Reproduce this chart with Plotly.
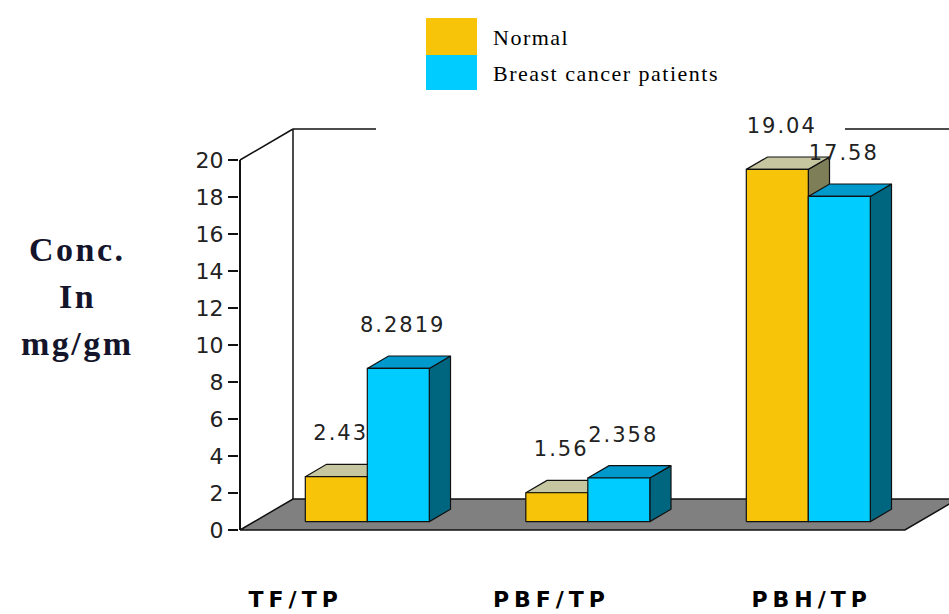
import plotly.graph_objects as go

# ---------------- data ----------------
categories = ["TF/TP", "PBF/TP", "PBH/TP"]
series_names = ["Normal", "Breast cancer patients"]
normal = [2.43, 1.56, 19.04]
cancer = [8.2819, 2.358, 17.58]
y_tick_values = [0, 2, 4, 6, 8, 10, 12, 14, 16, 18, 20]
y_title_lines = ["Conc.", "In", "mg/gm"]

# ---------------- geometry / style ----------------
W, H = 949, 614
L, R, T, B = 239, 0, 100, 30
PX_X = 220.5          # pixels per category unit
PX_Y = 18.5           # pixels per value unit
ZERO_PX = 530         # pixel row of value 0 (front)
CAT0_PX = 353         # pixel column of first category centre
plot_w, plot_h = W - L - R, H - T - B
x_range = [(L - CAT0_PX) / PX_X, (L + plot_w - CAT0_PX) / PX_X]
y_range = [(ZERO_PX - (T + plot_h)) / PX_Y, (ZERO_PX - T) / PX_Y]

AXIS_X = (240 - CAT0_PX) / PX_X
DX, DY = 53 / PX_X, 31 / PX_Y          # full depth of the 3-D box
F0, FD = 0.27, 0.40                    # bar front position / depth (fraction)
BAR_W = 62 / PX_X
FLOOR_RIGHT = len(categories) - 1 + 0.503
Y_MAX = max(y_tick_values)
GAP = [(376 - CAT0_PX) / PX_X, (845 - CAT0_PX) / PX_X]
LABEL_SHIFT = [-0.26, -0.10, 0.08]
LABEL_RISE = 2.25

colors = {
    "Normal": {"front": "#F7C409", "top": "#C6C6A0", "side": "#7E7E58"},
    "Breast cancer patients": {"front": "#00CCFF", "top": "#0099CC", "side": "#006680"},
}
EDGE = "#111111"


def px2paper_x(px):
    return (px - L) / plot_w


def px2paper_y(py):
    return (T + plot_h - py) / plot_h


fig = go.Figure()


def poly(xs, ys, fill, width=1.2):
    fig.add_trace(go.Scatter(x=xs + [xs[0]], y=ys + [ys[0]], mode="lines", fill="toself",
                             fillcolor=fill, line=dict(color=EDGE, width=width),
                             hoverinfo="skip", showlegend=False))


def line(xs, ys, width=1.5):
    fig.add_trace(go.Scatter(x=xs, y=ys, mode="lines", line=dict(color=EDGE, width=width),
                             hoverinfo="skip", showlegend=False))


# floor
poly([AXIS_X, FLOOR_RIGHT, FLOOR_RIGHT + DX, AXIS_X + DX],
     [0, 0, DY, DY], "#808080", 1.5)
# back wall
line([AXIS_X + DX, AXIS_X + DX], [DY, Y_MAX + DY])
line([AXIS_X + DX, GAP[0]], [Y_MAX + DY, Y_MAX + DY])
line([GAP[1], x_range[1] + 1], [Y_MAX + DY, Y_MAX + DY])
line([AXIS_X, AXIS_X + DX], [Y_MAX, Y_MAX + DY])
# front value axis
line([AXIS_X, AXIS_X], [0, Y_MAX], 2)

# bars
sx, sy = F0 * DX, F0 * DY
dx, dy = FD * DX, FD * DY
label_x = {s: [] for s in series_names}
label_y = {s: [] for s in series_names}
for i, cat in enumerate(categories):
    for k, (name, vals) in enumerate(zip(series_names, [normal, cancer])):
        v = vals[i]
        c = colors[name]
        x0 = i - BAR_W + k * BAR_W + sx
        x1 = x0 + BAR_W
        b = sy
        t = sy + v
        poly([x1, x1 + dx, x1 + dx, x1], [b, b + dy, t + dy, t], c["side"])
        poly([x0, x1, x1 + dx, x0 + dx], [t, t, t + dy, t + dy], c["top"])
        poly([x0, x1, x1, x0], [b, b, t, t], c["front"])
        label_x[name].append((x0 + x1) / 2 + 0.02)
        label_y[name].append(t + LABEL_RISE)

for name, vals in zip(series_names, [normal, cancer]):
    fig.add_trace(go.Scatter(
        x=label_x[name], y=label_y[name], mode="text",
        text=[f"<span style='letter-spacing:2px'>{v}</span>" for v in vals],
        textposition="middle center", cliponaxis=False,
        textfont=dict(family="DejaVu Sans", size=21, color="#222222"),
        hoverinfo="skip", showlegend=False))

# legend (drawn manually to get the large swatches)
leg_px = [(426, 18, 477, 55), (426, 55, 477, 90)]
shapes = []
annotations = []
for (x0, y0, x1, y1), name in zip(leg_px, series_names):
    shapes.append(dict(type="rect", xref="paper", yref="paper",
                       x0=px2paper_x(x0), x1=px2paper_x(x1),
                       y0=px2paper_y(y1), y1=px2paper_y(y0),
                       fillcolor=colors[name]["front"], line=dict(width=0)))
    annotations.append(dict(xref="paper", yref="paper", x=px2paper_x(491),
                            y=px2paper_y((y0 + y1) / 2 + 1), xanchor="left", yanchor="middle",
                            text=f"<span style='letter-spacing:1.5px'>{name}</span>",
                            showarrow=False,
                            font=dict(family="Liberation Serif", size=22, color="#000000")))

# y title
for j, s in enumerate(y_title_lines):
    annotations.append(dict(xref="paper", yref="paper", x=px2paper_x(77),
                            y=px2paper_y(249 + 47 * j), xanchor="center", yanchor="middle",
                            text=f"<span style='letter-spacing:2.5px'>{s}</span>",
                            showarrow=False,
                            font=dict(family="Liberation Serif", size=34,
                                      color="#14142a", weight="bold")))

fig.update_layout(
    width=W, height=H, autosize=False,
    margin=dict(l=L, r=R, t=T, b=B, pad=0),
    paper_bgcolor="white", plot_bgcolor="white",
    showlegend=False, shapes=shapes, annotations=annotations,
    xaxis=dict(range=x_range, showgrid=False, zeroline=False, showline=False,
               tickvals=[i + s for i, s in enumerate(LABEL_SHIFT)],
               ticktext=[f"<span style='letter-spacing:5px'>{c}</span>" for c in categories],
               ticks="", fixedrange=True,
               tickfont=dict(family="DejaVu Sans", size=22, color="#000000", weight="bold")),
    yaxis=dict(range=y_range, showgrid=False, zeroline=False, showline=False,
               tickvals=y_tick_values, ticktext=[str(v) for v in y_tick_values],
               ticks="outside", ticklen=10, tickwidth=1.5, tickcolor=EDGE, fixedrange=True,
               tickfont=dict(family="DejaVu Sans", size=22, color="#222222")),
)

fig.write_html("out.html", config={"displayModeBar": False},
               post_script="document.body.style.margin='0';document.body.style.overflow='hidden';")
